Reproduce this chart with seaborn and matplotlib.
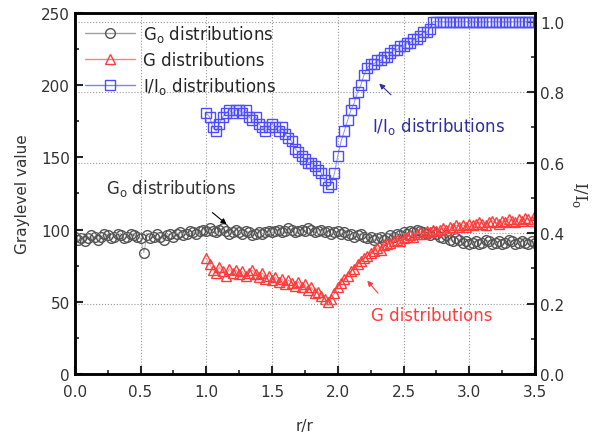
import numpy as np
import pandas as pd
import matplotlib
matplotlib.use('Agg')
import matplotlib.pyplot as plt
from matplotlib.ticker import MultipleLocator, FormatStrFormatter
from matplotlib.lines import Line2D
import seaborn as sns

# r/r0 positions
r_go = np.round(np.arange(0, 3.5001, 0.025), 3)
r_g = np.round(np.arange(1.0, 3.5001, 0.025), 3)

# G_o graylevel (0 .. 3.5)
go_vals = ([95, 93, 94, 92, 94, 96, 95, 93, 95, 97, 96, 94, 95, 97, 96, 94, 95, 97, 96, 95, 94]
           + [84]
           + [96, 94, 95, 97, 95, 93, 96, 97, 95, 97, 98, 96, 97, 99, 98, 97, 99, 100, 99]
           + [101, 99, 98, 100, 101, 99, 97, 98, 100, 98, 97, 99, 98, 96, 97, 98, 97, 98, 99, 98]
           + [99, 100, 98, 99, 101, 100, 98, 99, 100, 99, 101, 100, 98, 99, 100, 98, 99, 97, 98, 99]
           + [97, 98, 96, 97, 95, 96, 97, 95, 94, 95, 93, 94, 95, 93, 94, 96, 95, 97, 96, 98]
           + [97, 99, 98, 100, 99, 98, 97, 96, 98, 97, 95, 94, 96, 93, 92, 94, 93, 91, 92, 90]
           + [91, 92, 90, 91, 93, 92, 90, 91, 92, 90, 91, 93, 92, 90, 91, 92, 91, 90, 92, 91])

# G graylevel (1.0 .. 3.5)
g_vals = ([80, 76, 72, 70, 74, 71, 68, 73, 70, 72, 69]
          + [71, 68, 70, 72, 69, 67, 70, 66, 68, 65]
          + [67, 64, 66, 62, 65, 63, 61, 64, 60, 62]
          + [58, 60, 56, 57, 54, 52, 50, 52, 56, 60]
          + [63, 66, 68, 71, 73, 76, 78, 80, 82, 84]
          + [85, 87, 86, 89, 90, 91, 92, 93, 92, 94]
          + [95, 96, 95, 97, 98, 97, 99, 98, 100, 99]
          + [100, 101, 100, 102, 101, 103, 102, 103, 102, 104]
          + [103, 104, 105, 104, 103, 105, 106, 105, 104, 106]
          + [105, 107, 106, 105, 107, 106, 108, 107, 106, 110])

# I/I_o (1.0 .. 3.5)
ratio_vals = ([0.74, 0.73, 0.70, 0.69, 0.71, 0.73, 0.74, 0.75, 0.74, 0.75, 0.75]
              + [0.74, 0.75, 0.73, 0.72, 0.73, 0.71, 0.70, 0.69, 0.70, 0.71]
              + [0.70, 0.69, 0.70, 0.68, 0.67, 0.66, 0.64, 0.63, 0.62, 0.61]
              + [0.60, 0.60, 0.59, 0.58, 0.57, 0.55, 0.53, 0.54, 0.57, 0.62]
              + [0.66, 0.69, 0.72, 0.75, 0.77, 0.80, 0.82, 0.85, 0.87, 0.88]
              + [0.88, 0.89, 0.89, 0.90, 0.90, 0.91, 0.92, 0.92, 0.93, 0.93]
              + [0.94, 0.94, 0.95, 0.95, 0.96, 0.97, 0.97, 0.98, 1.0, 1.0]
              + [1.0] * 30)

df_go = pd.DataFrame({'r': r_go, 'val': go_vals})
df_g = pd.DataFrame({'r': r_g, 'val': g_vals, 'ratio': ratio_vals})

sns.set_style("ticks")
plt.rcParams['font.family'] = ['DejaVu Sans']

fig = plt.figure(figsize=(6.08, 4.35), dpi=100)
ax = fig.add_axes([0.123, 0.138, 0.757, 0.83])
ax2 = ax.twinx()

c_go, c_g, c_r = '#555555', '#ff3b3b', '#4d4dff'

sns.lineplot(data=df_go, x='r', y='val', ax=ax, color='#b0b0b0', lw=0.7,
             marker='o', ms=7, mfc='none', mec=c_go, mew=1.0)
sns.lineplot(data=df_g, x='r', y='val', ax=ax, color='#ff9090', lw=0.7,
             marker='^', ms=7, mfc='none', mec=c_g, mew=1.0)
sns.lineplot(data=df_g, x='r', y='ratio', ax=ax2, color='#9090ff', lw=0.7,
             marker='s', ms=7, mfc='none', mec=c_r, mew=1.0)

ax.set_xlim(0, 3.5)
ax.set_ylim(0, 250)
ax2.set_ylim(0, 1.025)

ax.xaxis.set_major_locator(MultipleLocator(0.5))
ax.xaxis.set_minor_locator(MultipleLocator(0.25))
ax.xaxis.set_major_formatter(FormatStrFormatter('%.1f'))
ax.yaxis.set_major_locator(MultipleLocator(50))
ax.yaxis.set_minor_locator(MultipleLocator(25))
ax2.yaxis.set_major_locator(MultipleLocator(0.2))
ax2.yaxis.set_minor_locator(MultipleLocator(0.1))
ax2.yaxis.set_major_formatter(FormatStrFormatter('%.1f'))

ax.xaxis.grid(True, ls=':', color='#999999', lw=0.8)
ax2.yaxis.grid(True, ls=':', color='#999999', lw=0.8)

for a in (ax, ax2):
    for s in a.spines.values():
        s.set_linewidth(1.8)
        s.set_color('black')
        s.set_visible(True)
    a.tick_params(which='major', direction='in', length=6, width=1.5,
                  labelsize=11, labelcolor='#333333', top=False)
    a.tick_params(which='minor', direction='in', length=3, width=1.2, top=False)
ax.tick_params(axis='y', which='both', right=False)
ax2.tick_params(axis='y', which='both', left=False)
ax.tick_params(axis='x', pad=7)

ax.set_xlabel('r/r', fontsize=11, color='#333333', labelpad=14)
ax.set_ylabel('Graylevel value', fontsize=11, color='#333333', labelpad=8)
ax2.set_ylabel(r'I/I$_\mathregular{o}$', fontsize=12, color='#333333', rotation=270,
               labelpad=18, family='DejaVu Serif')

# annotations
ax.annotate(r'G$_\mathregular{o}$ distributions', xy=(0.24, 129),
            fontsize=12, color='#333333', va='center')
ax.annotate('', xy=(1.17, 102.5), xytext=(1.03, 113),
            arrowprops=dict(arrowstyle='-|>', color='black', lw=0.8, mutation_scale=8))
ax.annotate('G distributions', xy=(2.25, 40.5), fontsize=12, color=c_g, va='center')
ax.annotate('', xy=(2.21, 66), xytext=(2.32, 54.5),
            arrowprops=dict(arrowstyle='-|>', color=c_g, lw=0.8, mutation_scale=8))
ax2.annotate(r'I/I$_\mathregular{o}$ distributions', xy=(2.26, 0.705), fontsize=12,
             color='#3030a0', va='center')
ax2.annotate('', xy=(2.30, 0.83), xytext=(2.42, 0.787),
             arrowprops=dict(arrowstyle='-|>', color='#3030a0', lw=0.8, mutation_scale=8))

handles = [
    Line2D([], [], color='#a0a0a0', lw=1, marker='o', ms=7, mfc='none', mec=c_go),
    Line2D([], [], color='#ff8080', lw=1, marker='^', ms=7, mfc='none', mec=c_g),
    Line2D([], [], color='#8080ff', lw=1, marker='s', ms=7, mfc='none', mec=c_r),
]
labels = [r'G$_\mathregular{o}$ distributions', 'G distributions',
          r'I/I$_\mathregular{o}$ distributions']
ax2.legend(handles, labels, loc='upper left', frameon=False, fontsize=12,
           handlelength=3, borderaxespad=0.2, labelspacing=0.4, handletextpad=0.5)

plt.savefig('out.png', dpi=100)
